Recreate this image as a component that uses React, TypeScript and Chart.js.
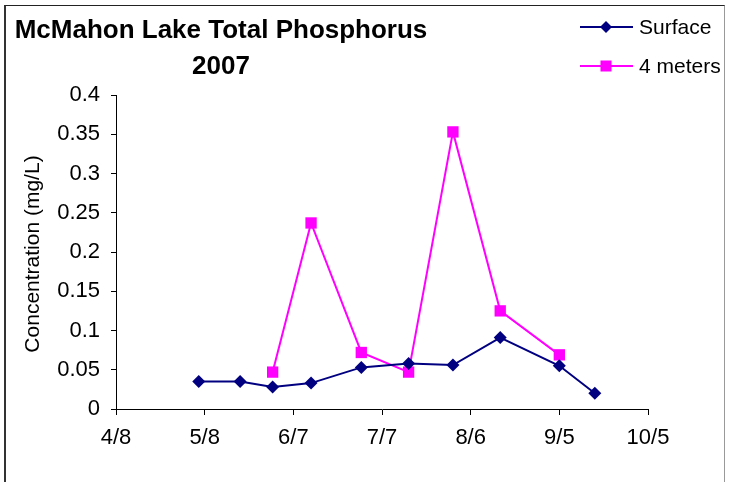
import React, { useEffect, useRef } from "react";
import { Chart, registerables } from "chart.js";

Chart.register(...registerables);

const TITLE_LINES = ["McMahon Lake Total Phosphorus", "2007"];
const Y_TITLE = "Concentration (mg/L)";
const BASE_DATE = Date.UTC(2007, 3, 8); // 4/8
const X_MIN_DAY = 0;
const X_MAX_DAY = 180;
const X_STEP_DAYS = 30;
const Y_MIN = 0;
const Y_MAX = 0.4;
const Y_STEP = 0.05;

const surfaceDates = ["2007-05-06", "2007-05-20", "2007-05-31", "2007-06-13", "2007-06-30", "2007-07-16", "2007-07-31", "2007-08-16", "2007-09-05", "2007-09-17"];
const surfaceValues = [0.035, 0.035, 0.028, 0.033, 0.053, 0.058, 0.056, 0.091, 0.055, 0.02];

const metersDates = ["2007-05-31", "2007-06-13", "2007-06-30", "2007-07-16", "2007-07-31", "2007-08-16", "2007-09-05"];
const metersValues = [0.047, 0.237, 0.072, 0.047, 0.353, 0.125, 0.069];

const SERIES_NAMES = ["Surface", "4 meters"];
const NAVY = "#000080";
const MAGENTA = "#FF00FF";
const FONT = "'Liberation Sans', Arial, sans-serif";

function toDay(iso: string): number {
  const [y, m, d] = iso.split("-").map(Number);
  return Math.round((Date.UTC(y, m - 1, d) - BASE_DATE) / 86400000);
}

function dayLabel(day: number): string {
  const dt = new Date(BASE_DATE + day * 86400000);
  return `${dt.getUTCMonth() + 1}/${dt.getUTCDate()}`;
}

const decorPlugin = {
  id: "decor",
  afterDraw(chart: any) {
    const ctx = chart.ctx as CanvasRenderingContext2D;
    ctx.save();
    // title
    ctx.fillStyle = "#000";
    ctx.font = `bold 26px ${FONT}`;
    ctx.textAlign = "center";
    ctx.textBaseline = "middle";
    ctx.fillText(TITLE_LINES[0], 221, 31);
    ctx.fillText(TITLE_LINES[1], 221, 67);

    // y title
    ctx.save();
    ctx.translate(33, 254);
    ctx.rotate(-Math.PI / 2);
    ctx.font = `21px ${FONT}`;
    ctx.fillText(Y_TITLE, 0, 0);
    ctx.restore();

    // legend
    const items = [
      { name: SERIES_NAMES[0], color: NAVY, y: 27, style: "diamond" },
      { name: SERIES_NAMES[1], color: MAGENTA, y: 66, style: "square" },
    ];
    for (const it of items) {
      ctx.strokeStyle = it.color;
      ctx.lineWidth = 2;
      ctx.beginPath();
      ctx.moveTo(580, it.y);
      ctx.lineTo(633, it.y);
      ctx.stroke();
      ctx.fillStyle = it.color;
      ctx.beginPath();
      if (it.style === "diamond") {
        ctx.moveTo(606, it.y - 6);
        ctx.lineTo(612, it.y);
        ctx.lineTo(606, it.y + 6);
        ctx.lineTo(600, it.y);
        ctx.closePath();
      } else {
        ctx.rect(600.5, it.y - 5.5, 11, 11);
      }
      ctx.fill();
      ctx.fillStyle = "#000";
      ctx.font = `21px ${FONT}`;
      ctx.textAlign = "left";
      ctx.textBaseline = "middle";
      ctx.fillText(it.name, 639, it.y + 1);
    }
    ctx.restore();
  },
};

export default function App() {
  const ref = useRef<HTMLCanvasElement | null>(null);
  useEffect(() => {
    if (!ref.current) return;
    const chart = new Chart(ref.current, {
      type: "line",
      data: {
        datasets: [
          {
            label: SERIES_NAMES[0],
            data: surfaceDates.map((d, i) => ({ x: toDay(d), y: surfaceValues[i] })),
            borderColor: NAVY,
            backgroundColor: NAVY,
            borderWidth: 2,
            pointStyle: "rectRot",
            pointRadius: 6.5,
            pointBorderWidth: 0,
            pointBackgroundColor: NAVY,
            tension: 0,
          },
          {
            label: SERIES_NAMES[1],
            data: metersDates.map((d, i) => ({ x: toDay(d), y: metersValues[i] })),
            borderColor: MAGENTA,
            backgroundColor: MAGENTA,
            borderWidth: 2,
            pointStyle: "rect",
            pointRadius: 8,
            pointBorderWidth: 0,
            pointBackgroundColor: MAGENTA,
            tension: 0,
          },
        ],
      },
      options: {
        responsive: false,
        animation: false,
        layout: { padding: { top: 95, right: 81, bottom: 0, left: 0 } },
        plugins: { legend: { display: false }, title: { display: false }, tooltip: { enabled: false } },
        scales: {
          x: {
            type: "linear",
            min: X_MIN_DAY,
            max: X_MAX_DAY,
            afterFit: (s: any) => { s.height = 73; },
            afterBuildTicks: (s: any) => {
              const t = [];
              for (let d = X_MIN_DAY; d <= X_MAX_DAY; d += X_STEP_DAYS) t.push({ value: d });
              s.ticks = t;
            },
            ticks: {
              callback: (v: any) => dayLabel(Number(v)),
              color: "#000",
              font: { family: FONT, size: 22 },
              padding: 10,
              maxRotation: 0,
              autoSkip: false,
            },
            grid: { drawOnChartArea: false, drawTicks: true, tickLength: 6, color: "#000", lineWidth: 1 },
            border: { display: true, color: "#000", width: 1 },
          },
          y: {
            min: Y_MIN,
            max: Y_MAX,
            afterFit: (s: any) => { s.width = 116; },
            ticks: {
              stepSize: Y_STEP,
              callback: (v: any) => String(Number(Number(v).toFixed(2))),
              color: "#000",
              font: { family: FONT, size: 22 },
              padding: 11,
            },
            grid: { drawOnChartArea: false, drawTicks: true, tickLength: 5, color: "#000", lineWidth: 1 },
            border: { display: true, color: "#000", width: 1 },
          },
        },
      },
      plugins: [decorPlugin],
    });
    return () => chart.destroy();
  }, []);

  return (
    <div style={{ position: "fixed", left: 0, top: 0, width: 729, height: 482, background: "#fff", overflow: "hidden" }}>
      <div style={{ position: "absolute", left: 4, top: 5, width: 718, height: 520, borderTop: "1px solid #222", borderLeft: "2px solid #333", borderRight: "1px solid #999" }} />
      <canvas ref={ref} width={729} height={482} style={{ position: "absolute", left: 0, top: 0, width: 729, height: 482 }} />
    </div>
  );
}
